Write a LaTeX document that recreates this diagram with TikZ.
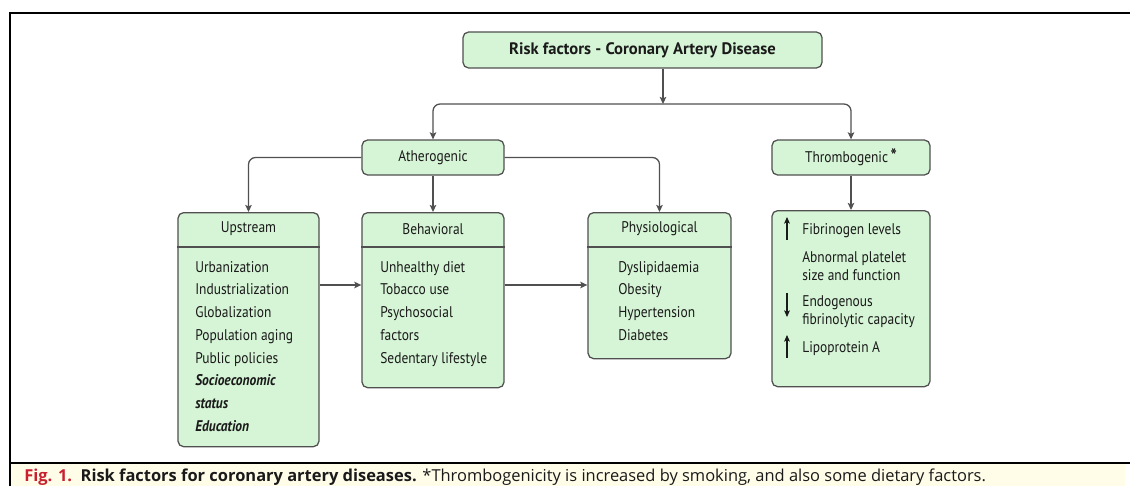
\documentclass[tikz,border=0pt]{standalone}
\usepackage{fontspec}
\setmainfont{PT Sans}[FakeStretch=0.87]
\newfontfamily\titlefont{PT Sans}
\newfontfamily\capfont{Open Sans}
\usetikzlibrary{arrows.meta,positioning}
\definecolor{ink}{HTML}{1A1A1A}
\definecolor{edge}{HTML}{505050}
\definecolor{mint}{HTML}{D6F5D6}
\definecolor{cream}{HTML}{FFFCE8}
\definecolor{figred}{HTML}{C8202F}

\begin{document}
\begin{tikzpicture}[
  x=0.025cm,y=-0.025cm,
  text=ink,
  font=\fontsize{11}{12}\selectfont,
  arrow/.style={-{Stealth[length=5pt,width=4.6pt,inset=1pt]},draw=edge,line width=.9pt,
    rounded corners=5pt},
  card/.style={draw=edge,fill=mint,rounded corners=4pt,line width=.9pt,inner sep=0pt},
  head/.style={inner sep=0pt},
  item/.style={inner sep=0pt,anchor=base west},
  tick/.style={-{Stealth[length=4.6pt,width=4pt,inset=.8pt]},draw=ink,line width=.75pt},
  frame/.style={draw=black,line width=1.8pt}
]
  \useasboundingbox (0,0) rectangle (1130,486);
  \fill[cream] (11,464) rectangle (1125,486);
  \draw[frame] (1130,13) -- (10,13) -- (10,486);
  \draw[frame] (10,463) -- (1130,463);

  \node[card,minimum width=8.975cm,minimum height=.9cm] (risk) at (642.5,50)
    {\titlefont\fontsize{11.8}{14}\selectfont\bfseries Risk factors - Coronary Artery Disease};
  \node[card,minimum width=3.55cm,minimum height=.875cm] (ath) at (433,157.5)
    {Atherogenic};
  \node[card,minimum width=3.95cm,minimum height=.875cm] (thr) at (851,157.5)
    {Thrombogenic\,{\fontsize{13.5}{13}\selectfont\bfseries*}};

  \node[card,anchor=north,minimum width=3.525cm,minimum height=5.85cm] (up)
    at (248.5,212) {};
  \node[card,anchor=north,minimum width=3.55cm,minimum height=4.375cm] (beh)
    at (433,212) {};
  \node[card,anchor=north,minimum width=3.575cm,minimum height=3.65cm] (phys)
    at (659.5,212) {};
  \node[card,anchor=north,minimum width=3.95cm,minimum height=4.4cm] (thl)
    at (851,210) {};

  \node[head] (up-h) at (248.5,229) {Upstream};
  \node[head] (beh-h) at (433,229) {Behavioral};
  \node[head] (phys-h) at (659.5,229) {Physiological};
  \foreach \b in {up,beh,phys}
    \draw[draw=edge,line width=.9pt] (\b.west |- 0,247) -- (\b.east |- 0,247);

  \foreach \t [count=\i] in {Urbanization,Industrialization,Globalization,
      Population aging,Public policies,{\bfseries\itshape Socioeconomic},
      {\bfseries\itshape status},{\bfseries\itshape Education}}
    \node[item] (up-\i) at (195,{272+22.75*(\i-1)}) {\t};
  \foreach \t [count=\i] in {Unhealthy diet,Tobacco use,Psychosocial,
      factors,Sedentary lifestyle}
    \node[item] (beh-\i) at (380,{272+22.75*(\i-1)}) {\t};
  \foreach \t [count=\i] in {Dyslipidaemia,Obesity,Hypertension,Diabetes}
    \node[item] (phys-\i) at (618,{272+22.75*(\i-1)}) {\t};

  \foreach \t/\y [count=\i] in {Fibrinogen levels/234,Abnormal platelet/262,
      size and function/280,Endogenous/306,fibrinolytic capacity/324,
      Lipoprotein A/352}
    \node[item] (thl-\i) at (802,\y) {\t};
  \draw[tick] (787,240) -- (787,217);
  \draw[tick] (787,293) -- (787,317);
  \draw[tick] (787,358) -- (787,335);

  \coordinate (hub) at (663,104);
  \coordinate (lane) at (0,285);
  \draw[arrow] (risk.south -| hub) -- (hub);
  \draw[arrow] (hub) -| (ath.north);
  \draw[arrow] (hub) -| (thr.north);
  \draw[arrow] (ath.west) -| (up.north);
  \draw[arrow] (ath.east) -| (phys.north);
  \draw[arrow] (ath.south) -- (beh.north);
  \draw[arrow] (thr.south) -- (thl.north);
  \draw[arrow] (up.east |- lane) -- (beh.west |- lane);
  \draw[arrow] (beh.east |- lane) -- (phys.west |- lane);

  \node[item,font=\capfont\fontsize{11.7}{14}\selectfont] (caption) at (24,481)
    {{\color{figred}\bfseries Fig. 1.}\ \ \textbf{Risk factors for coronary artery diseases.}
     *Thrombogenicity is increased by smoking, and also some dietary factors.};
\end{tikzpicture}
\end{document}
